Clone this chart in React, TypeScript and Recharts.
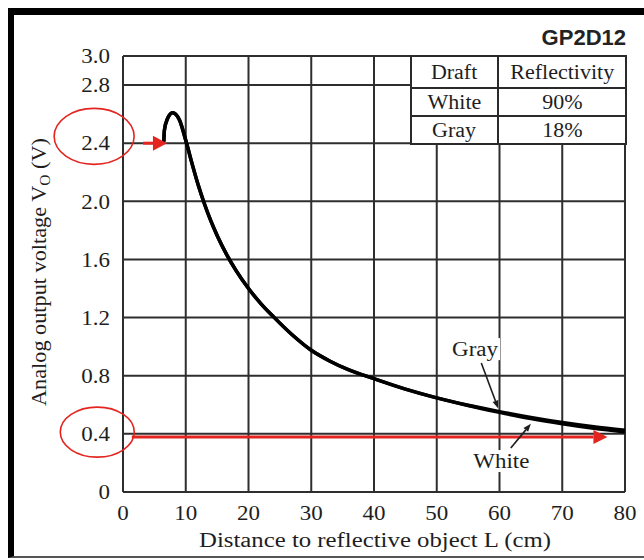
import React from 'react';
import {
  LineChart,
  Line,
  XAxis,
  YAxis,
  CartesianGrid,
  ReferenceLine,
  ReferenceDot,
} from 'recharts';

// curve
const distance = [6.5, 6.6, 7.1, 7.9, 9.0, 10, 11, 12, 13, 14, 15, 16.5, 18, 20, 22, 24, 27, 30, 33, 36, 40, 45, 50, 55, 60, 65, 70, 75, 80];
const grayVoltage = [2.41, 2.49, 2.57, 2.61, 2.56, 2.42, 2.26, 2.11, 1.98, 1.865, 1.765, 1.635, 1.525, 1.4, 1.295, 1.205, 1.08, 0.975, 0.9, 0.84, 0.78, 0.708, 0.648, 0.597, 0.553, 0.513, 0.478, 0.449, 0.425];
const whiteVoltage = [2.41, 2.49, 2.57, 2.61, 2.56, 2.42, 2.26, 2.11, 1.98, 1.865, 1.765, 1.635, 1.525, 1.4, 1.295, 1.205, 1.08, 0.975, 0.9, 0.84, 0.78, 0.708, 0.648, 0.595, 0.548, 0.505, 0.469, 0.438, 0.413];

const xTicks = [0, 10, 20, 30, 40, 50, 60, 70, 80];
const yTicks = [0, 0.4, 0.8, 1.2, 1.6, 2.0, 2.4, 2.8, 3.0];

const tableRows = [
  ['Draft', 'Reflectivity'],
  ['White', '90%'],
  ['Gray', '18%'],
];

const data = distance.map((d, i) => ({ d, gray: grayVoltage[i], white: whiteVoltage[i] }));

const SERIF = '"Liberation Serif", "Times New Roman", serif';
const INK = '#1e1e1e';
const RED = '#e3241f';

const YTick = ({ x, y, payload }: any) => (
  <g transform={`translate(${x},${y})`}>
    <text transform="scale(1.15,1)" textAnchor="end" dy="0.36em" fontSize={20} fill={INK} fontFamily={SERIF}>
      {payload.value === 0 ? '0' : payload.value.toFixed(1)}
    </text>
  </g>
);

const XTick = ({ x, y, payload }: any) => (
  <g transform={`translate(${x},${y + 26})`}>
    <text transform="scale(1.15,1)" textAnchor="middle" fontSize={20} fill={INK} fontFamily={SERIF}>
      {payload.value}
    </text>
  </g>
);

// line with a filled triangular head at the second point
const arrowShape = (color: string, width: number, len: number, half: number) => (props: any) => {
  const { x1, y1, x2, y2 } = props;
  const a = Math.atan2(y2 - y1, x2 - x1);
  const bx = x2 - len * Math.cos(a);
  const by = y2 - len * Math.sin(a);
  const px = -Math.sin(a) * half;
  const py = Math.cos(a) * half;
  return (
    <g>
      <line x1={x1} y1={y1} x2={bx} y2={by} stroke={color} strokeWidth={width} />
      <polygon points={`${x2},${y2} ${bx + px},${by + py} ${bx - px},${by - py}`} fill={color} />
    </g>
  );
};

const ellipseShape = (rx: number, ry: number) => (props: any) => (
  <ellipse cx={props.cx} cy={props.cy} rx={rx} ry={ry} fill="none" stroke={RED} strokeWidth={1.6} />
);

const labelShape = (text: string, w: number) => (props: any) => (
  <g>
    <rect x={props.cx - w / 2} y={props.cy - 11} width={w} height={22} fill="#fff" />
    <text
      x={props.cx}
      y={props.cy}
      dy="0.35em"
      textAnchor="middle"
      fontSize={20}
      fill={INK}
      fontFamily={SERIF}
      textLength={w - 4}
      lengthAdjust="spacingAndGlyphs"
    >
      {text}
    </text>
  </g>
);

export default function App() {
  return (
    <div style={{ position: 'relative', width: 644, height: 560, overflow: 'hidden', background: '#fff' }}>
      <style>{'body{margin:0}'}</style>
      <div
        style={{
          position: 'absolute',
          left: 8,
          top: 8,
          width: 636,
          height: 550,
          boxSizing: 'border-box',
          borderTop: '7px solid #000',
          borderLeft: '6px solid #000',
          borderBottom: '2px solid #555',
        }}
      />
      <div style={{ position: 'absolute', left: 0, top: 0 }}>
        <LineChart width={644} height={560} data={data} margin={{ top: 56, right: 19, bottom: 0, left: 0 }}>
          <CartesianGrid stroke="#2e2e2e" strokeWidth={2} />
          <XAxis
            dataKey="d"
            type="number"
            domain={[0, 80]}
            ticks={xTicks}
            height={68}
            tickSize={0}
            tickLine={false}
            axisLine={{ stroke: '#2e2e2e', strokeWidth: 2 }}
            tick={<XTick />}
            interval={0}
          />
          <YAxis
            type="number"
            domain={[0, 3]}
            ticks={yTicks}
            width={123}
            tickSize={0}
            tickMargin={13}
            tickLine={false}
            axisLine={{ stroke: '#2e2e2e', strokeWidth: 2 }}
            tick={<YTick />}
            interval={0}
          />
          <Line type="monotone" dataKey="white" stroke="#000" strokeWidth={3.5} dot={false} isAnimationActive={false} />
          <Line type="monotone" dataKey="gray" stroke="#000" strokeWidth={3.5} dot={false} isAnimationActive={false} />

          <ReferenceDot x={-4.6} y={2.447} ifOverflow="visible" shape={ellipseShape(40, 28)} />
          <ReferenceDot x={-4.1} y={0.412} ifOverflow="visible" shape={ellipseShape(37, 25)} />
          <ReferenceLine
            segment={[{ x: 3.2, y: 2.4 }, { x: 7.0, y: 2.4 }]}
            ifOverflow="visible"
            shape={arrowShape(RED, 3, 14, 7.5)}
          />
          <ReferenceLine
            segment={[{ x: 1.4, y: 0.378 }, { x: 77.2, y: 0.378 }]}
            ifOverflow="visible"
            shape={arrowShape(RED, 3, 14, 7)}
          />

          <ReferenceDot x={56.1} y={0.983} ifOverflow="visible" shape={labelShape('Gray', 50)} />
          <ReferenceLine
            segment={[{ x: 57.1, y: 0.887 }, { x: 59.8, y: 0.575 }]}
            ifOverflow="visible"
            shape={arrowShape(INK, 1.6, 8, 3)}
          />
          <ReferenceDot x={60.3} y={0.213} ifOverflow="visible" shape={labelShape('White', 60)} />
          <ReferenceLine
            segment={[{ x: 61.8, y: 0.302 }, { x: 65.0, y: 0.47 }]}
            ifOverflow="visible"
            shape={arrowShape(INK, 1.6, 8, 3)}
          />
        </LineChart>
      </div>

      <svg width={644} height={560} style={{ position: 'absolute', left: 0, top: 0, pointerEvents: 'none' }}>
        <text
          transform="rotate(-90 46 272)"
          x={46}
          y={272}
          textAnchor="middle"
          fontSize={20}
          fill={INK}
          fontFamily={SERIF}
          textLength={268}
          lengthAdjust="spacingAndGlyphs"
        >
          Analog output voltage V<tspan fontSize={14} dy={4}>O</tspan>
          <tspan dy={-4}> (V)</tspan>
        </text>
        <text
          x={375}
          y={547}
          textAnchor="middle"
          fontSize={20}
          fill={INK}
          fontFamily={SERIF}
          textLength={352}
          lengthAdjust="spacingAndGlyphs"
        >
          Distance to reflective object L (cm)
        </text>
      </svg>

      <div
        style={{
          position: 'absolute',
          left: 500,
          width: 126,
          top: 27,
          textAlign: 'right',
          fontFamily: '"Liberation Sans", Arial, sans-serif',
          fontWeight: 700,
          fontSize: 22,
          lineHeight: '22px',
          color: '#222',
        }}
      >
        GP2D12
      </div>

      <table
        style={{
          position: 'absolute',
          left: 410,
          top: 55,
          width: 217,
          height: 89,
          borderCollapse: 'collapse',
          background: '#fff',
          fontFamily: SERIF,
          fontSize: 20,
          color: INK,
        }}
      >
        <tbody>
          {tableRows.map((row, i) => (
            <tr key={i} style={{ height: i === 0 ? 32 : 28 }}>
              {row.map((cell, j) => (
                <td
                  key={j}
                  style={{
                    border: '2px solid #2a2a2a',
                    textAlign: 'center',
                    padding: 0,
                    width: j === 0 ? 88 : 129,
                    lineHeight: '20px',
                  }}
                >
                  <span style={{ display: 'inline-block', transform: 'scaleX(1.1)' }}>{cell}</span>
                </td>
              ))}
            </tr>
          ))}
        </tbody>
      </table>
    </div>
  );
}
